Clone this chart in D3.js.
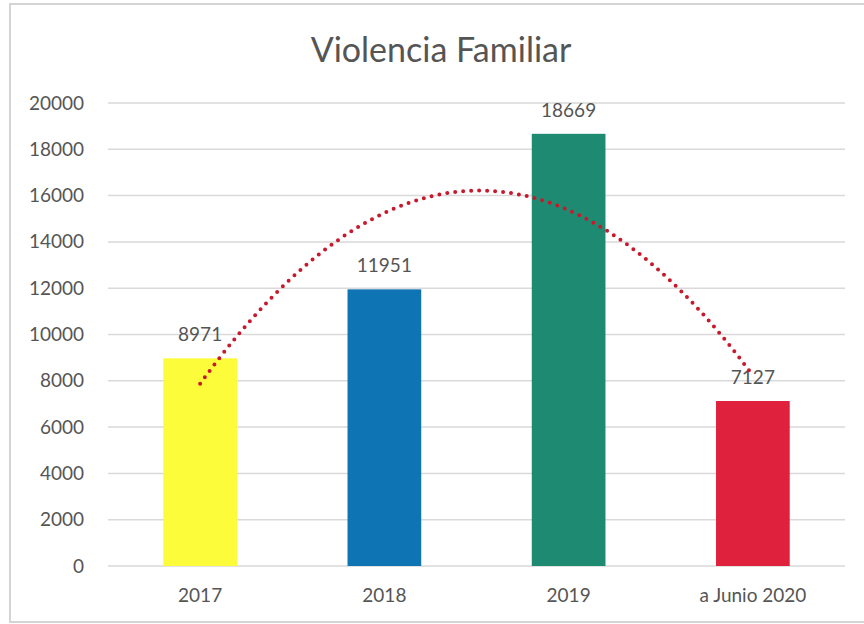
<!DOCTYPE html>
<html lang="es">
<head>
    <meta charset="UTF-8"/>
    <title>Violencia Familiar</title>
    <script src="https://d3js.org/d3.v7.min.js"></script>
    <style>
        body { margin: 0; background: #fff; }
        text { font-family: Lato, "Open Sans", sans-serif; fill: #555; }
    </style>
</head>
<body>
<script>

    var w = 864;
    var h = 624;

    // data
    var categories = ["2017", "2018", "2019", "a Junio 2020"];
    var values = [8971, 11951, 18669, 7127];
    var barColors = ["#fcfc3a", "#0f74b4", "#1f8a72", "#e0213d"];
    var yTicks = [0, 2000, 4000, 6000, 8000, 10000, 12000, 14000, 16000, 18000, 20000];

    var plotLeft = 108, plotRight = 845, plotTop = 103, plotBottom = 566;

    var svg = d3.select("body")
                .append("svg")
                .attr("width", w)
                .attr("height", h);

    // chart frame
    svg.append("rect")
        .attr("x", 10).attr("y", 4)
        .attr("width", 880).attr("height", 618)
        .attr("fill", "none")
        .attr("stroke", "#d4d4d4")
        .attr("stroke-width", 2);

    var xScale = d3.scaleBand()
                    .domain(categories)
                    .range([plotLeft, plotRight])
                    .paddingInner(0.6)
                    .paddingOuter(0.3);

    var yScale = d3.scaleLinear()
                    .domain([0, 20000])
                    .range([plotBottom, plotTop]);

    // gridlines
    svg.selectAll(".grid")
        .data(yTicks)
        .enter()
        .append("line")
        .attr("class", "grid")
        .attr("x1", plotLeft)
        .attr("x2", plotRight)
        .attr("y1", function(d){ return yScale(d); })
        .attr("y2", function(d){ return yScale(d); })
        .attr("stroke", "#d9d9d9")
        .attr("stroke-width", 1.5);

    // y axis labels
    var yAxis = d3.axisLeft(yScale).tickValues(yTicks).tickSize(0).tickPadding(0).tickFormat(d3.format("d"));
    var gy = svg.append("g")
        .attr("transform", "translate(84,0)")
        .call(yAxis);
    gy.select(".domain").remove();
    gy.selectAll("text")
        .style("font-size", "19px")
        .style("font-family", "Lato, sans-serif")
        .attr("fill", "#555");

    // x axis labels
    var xAxis = d3.axisBottom(xScale).tickSize(0).tickPadding(0);
    var gx = svg.append("g")
        .attr("transform", "translate(0," + (plotBottom + 22) + ")")
        .call(xAxis);
    gx.select(".domain").remove();
    gx.selectAll("text")
        .style("font-size", "19px")
        .style("font-family", "Lato, sans-serif")
        .attr("fill", "#555");

    // bars
    svg.selectAll(".bar")
        .data(values)
        .enter()
        .append("rect")
        .attr("class", "bar")
        .attr("x", function(d, i){ return xScale(categories[i]); })
        .attr("y", function(d){ return yScale(d); })
        .attr("width", xScale.bandwidth())
        .attr("height", function(d){ return plotBottom - yScale(d); })
        .attr("fill", function(d, i){ return barColors[i]; });

    // value labels
    svg.selectAll(".val")
        .data(values)
        .enter()
        .append("text")
        .attr("class", "val")
        .attr("text-anchor", "middle")
        .attr("x", function(d, i){ return xScale(categories[i]) + xScale.bandwidth() / 2; })
        .attr("y", function(d){ return yScale(d) - 17; })
        .style("font-size", "19px")
        .text(function(d){ return d; });

    // polynomial (order 2) trendline, least squares on x = 1..n
    var n = values.length;
    var xs = d3.range(1, n + 1);
    var xm = d3.mean(xs), ym = d3.mean(values);
    var u = xs.map(function(x){ return x - xm; });
    var u2m = d3.mean(u, function(v){ return v * v; });
    var q = u.map(function(v){ return v * v - u2m; });
    var b = d3.sum(u, function(v, i){ return v * values[i]; }) / d3.sum(u, function(v){ return v * v; });
    var c = d3.sum(q, function(v, i){ return v * values[i]; }) / d3.sum(q, function(v){ return v * v; });
    function trend(x){ var t = x - xm; return ym + b * t + c * (t * t - u2m); }

    var xLin = d3.scaleLinear()
                 .domain([1, n])
                 .range([xScale(categories[0]) + xScale.bandwidth() / 2,
                         xScale(categories[n - 1]) + xScale.bandwidth() / 2]);

    var line = d3.line()
        .x(function(d){ return xLin(d); })
        .y(function(d){ return yScale(trend(d)); });

    svg.append("path")
        .datum(d3.range(1, n + 0.001, 0.02))
        .attr("d", line)
        .attr("fill", "none")
        .attr("stroke", "#c8192c")
        .attr("stroke-width", 4)
        .attr("stroke-linecap", "round")
        .attr("stroke-dasharray", "0 8");

    // title
    svg.append("text")
        .attr("x", 441)
        .attr("y", 62)
        .attr("text-anchor", "middle")
        .style("font-size", "34px")
        .text("Violencia Familiar");

</script>
</body>
</html>
